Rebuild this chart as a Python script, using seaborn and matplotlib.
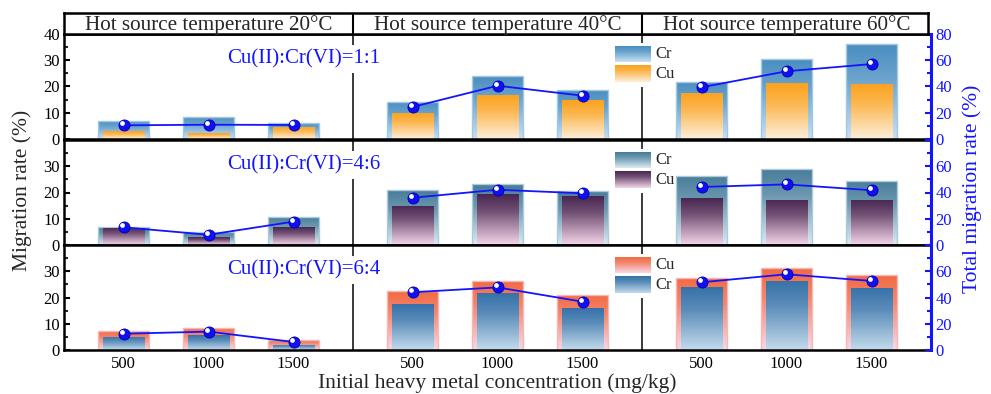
import numpy as np
import pandas as pd
import matplotlib
matplotlib.use("Agg")
import matplotlib.pyplot as plt
import seaborn as sns
from matplotlib.colors import LinearSegmentedColormap
from matplotlib.patches import Rectangle
from matplotlib.transforms import ScaledTranslation

sns.set_theme(style="ticks")
plt.rcParams["font.family"] = ["Liberation Serif", "DejaVu Serif"]

# ---- data -------------------------------------------------------------
temperatures = ["20°C", "40°C", "60°C"]
concentrations = [500, 1000, 1500]

# Cu(II):Cr(VI) = 1:1
cr_1_1 = [7.0, 8.5, 6.2, 14.2, 24.0, 18.5, 21.8, 30.4, 36.1]
cu_1_1 = [3.0, 2.2, 4.6, 10.0, 16.8, 14.7, 17.6, 21.3, 21.0]
total_1_1 = [10.4, 10.9, 10.7, 24.4, 40.6, 33.0, 39.4, 51.6, 57.1]

# Cu(II):Cr(VI) = 4:6
cr_4_6 = [6.7, 4.8, 10.8, 20.8, 23.1, 20.6, 26.3, 29.0, 24.4]
cu_4_6 = [6.5, 2.9, 6.7, 15.0, 19.3, 18.5, 17.8, 17.3, 17.3]
total_4_6 = [13.5, 7.8, 17.8, 36.0, 42.1, 39.4, 44.2, 46.2, 41.7]

# Cu(II):Cr(VI) = 6:4
cu_6_4 = [7.2, 8.4, 3.9, 22.3, 26.3, 21.1, 27.6, 31.1, 28.7]
cr_6_4 = [5.0, 5.6, 2.0, 17.4, 21.6, 16.0, 23.9, 26.4, 23.7]
total_6_4 = [12.4, 14.0, 6.1, 44.0, 47.7, 36.8, 51.6, 57.7, 52.6]

# ---- layout helpers ---------------------------------------------------
GROUP_STEP = 3.4
positions = [g * GROUP_STEP + i for g in range(3) for i in range(3)]
group_of = [t for t in temperatures for _ in concentrations]
x_min, x_max = -0.7, 3 * GROUP_STEP - 0.7
separators = [GROUP_STEP - 0.7, 2 * GROUP_STEP - 0.7]
group_centres = [g * GROUP_STEP + 1 for g in range(3)]

BLUE = "#1414ff"

# gradient palettes: (top colour, bottom colour)
CR_BLUE = ("#4a8ec0", "#c9e1f3")
CU_ORANGE = ("#fba21c", "#fdefdc")
CR_TEAL = ("#467c99", "#dcecf4")
CU_PURPLE = ("#482650", "#f5d6e9")
CU_RED = ("#f26a42", "#f7d8ea")
CR_STEEL = ("#3671a8", "#c4dbec")

rows = [
    dict(ratio="1:1", outer=("Cr", cr_1_1, CR_BLUE), inner=("Cu", cu_1_1, CU_ORANGE),
         total=total_1_1),
    dict(ratio="4:6", outer=("Cr", cr_4_6, CR_TEAL), inner=("Cu", cu_4_6, CU_PURPLE),
         total=total_4_6),
    dict(ratio="6:4", outer=("Cu", cu_6_4, CU_RED), inner=("Cr", cr_6_4, CR_STEEL),
         total=total_6_4),
]


def _mix(a, b, t):
    ca = np.array(matplotlib.colors.to_rgb(a))
    cb = np.array(matplotlib.colors.to_rgb(b))
    return tuple(ca * (1 - t) + cb * t)


def make_cmap(top, bottom):
    return LinearSegmentedColormap.from_list(
        "grad", [(0.0, bottom), (0.65, _mix(top, bottom, 0.25)), (1.0, top)]
    )


GRAD = np.linspace(0, 1, 256).reshape(-1, 1)


def gradient_bars(ax, patches, colours, z, edge=None):
    cmap = make_cmap(*colours)
    for p in patches:
        x0, y0 = p.get_x(), p.get_y()
        w, h = p.get_width(), p.get_height()
        im = ax.imshow(GRAD, cmap=cmap, extent=[x0, x0 + w, y0, y0 + h],
                       origin="lower", aspect="auto", interpolation="bilinear",
                       zorder=z)
        im.set_clip_path(p)
        p.set_facecolor("none")
        p.set_zorder(z + 0.05)
        if edge is not None:
            p.set_edgecolor(edge)
            p.set_linewidth(1.0)
        else:
            p.set_edgecolor("none")


# ---- figure -----------------------------------------------------------
fig = plt.figure(figsize=(9.91, 3.94), dpi=100)
left, width = 64 / 991, 867 / 991
row_h = 105 / 394
row_bottoms = [1 - 139 / 394, 1 - 245 / 394, 1 - 350 / 394]

SPINE_W = 1.8
TICK_FS = 12

for r, (spec, bottom) in enumerate(zip(rows, row_bottoms)):
    ax = fig.add_axes([left, bottom, width, row_h])
    tw = ax.twinx()

    # separators between temperature groups
    for s in separators:
        ax.axvline(s, color="#2a2a2a", lw=1.3, zorder=0.5)

    # outer (wider) and inner (narrower) bars
    o_name, o_vals, o_col = spec["outer"]
    i_name, i_vals, i_col = spec["inner"]
    n0 = len(ax.patches)
    sns.barplot(x=positions, y=o_vals, native_scale=True, width=0.59,
                color=o_col[0], errorbar=None, ax=ax)
    n1 = len(ax.patches)
    sns.barplot(x=positions, y=i_vals, native_scale=True, width=0.49,
                color=i_col[0], errorbar=None, ax=ax)
    n2 = len(ax.patches)
    gradient_bars(ax, ax.patches[n0:n1], o_col, 1.0, edge=_mix(o_col[1], o_col[0], 0.3))
    gradient_bars(ax, ax.patches[n1:n2], i_col, 1.2)

    # total migration line on the right-hand axis, one segment per temperature
    line_df = pd.DataFrame({"pos": positions, "total": spec["total"], "temp": group_of})
    sns.lineplot(data=line_df, x="pos", y="total", hue="temp",
                 palette=[BLUE] * 3, ax=tw, lw=1.3, marker="o", markersize=8,
                 markerfacecolor="#1010f0", markeredgecolor="#0000b0",
                 markeredgewidth=0.6, legend=False, zorder=5)
    shine = tw.transData + ScaledTranslation(-1.4 / 72, 1.4 / 72, fig.dpi_scale_trans)
    tw.plot(positions, spec["total"], ls="none", marker="o", markersize=2.4,
            color="white", transform=shine, zorder=6)

    # ratio annotation with a white backing that interrupts the separator
    tw.text(0.276, 0.76, f"Cu(II):Cr(VI)={spec['ratio']}", transform=tw.transAxes,
            color=BLUE, fontsize=15, ha="center", va="center", zorder=7,
            bbox=dict(facecolor="white", edgecolor="none", pad=3))

    # hand-built legend with gradient swatches
    tw.add_patch(Rectangle((0.630, 0.50), 0.065, 0.41, transform=tw.transAxes,
                           facecolor="white", edgecolor="none", zorder=7))
    legend_items = [(o_name, o_col), (i_name, i_col)]
    for k, (name, col) in enumerate(legend_items):
        y0, y1 = (0.735, 0.885) if k == 0 else (0.54, 0.695)
        tw.imshow(GRAD, cmap=make_cmap(*col), extent=[0.6355, 0.6759, y0, y1],
                  origin="lower", aspect="auto", transform=tw.transAxes,
                  interpolation="bilinear", zorder=8)
        tw.text(0.682, (y0 + y1) / 2, name, transform=tw.transAxes, fontsize=12,
                ha="left", va="center", zorder=8)

    # limits and ticks
    ax.set_xlim(x_min, x_max)
    ax.set_ylim(0, 40)
    tw.set_ylim(0, 80)
    ax.set_xlabel("")
    ax.set_ylabel("")
    tw.set_xlabel("")
    tw.set_ylabel("")

    ax.set_xticks(positions)
    if r == 2:
        ax.set_xticklabels([str(c) for c in concentrations] * 3, fontsize=TICK_FS)
    else:
        ax.set_xticklabels([])
    ax.set_yticks([0, 10, 20, 30, 40])
    ax.set_yticks([5, 15, 25, 35], minor=True)
    ax.set_yticklabels(["0", "10", "20", "30", "40" if r == 0 else ""], fontsize=TICK_FS)
    tw.set_yticks([0, 20, 40, 60, 80])
    tw.set_yticks([10, 30, 50, 70], minor=True)
    tw.set_yticklabels(["0", "20", "40", "60", "80" if r == 0 else ""],
                       fontsize=TICK_FS, color=BLUE)

    ax.tick_params(axis="x", which="both", direction="in", length=3, width=1.2,
                   top=False, bottom=True, pad=4, colors="black")
    ax.tick_params(axis="y", which="major", direction="in", length=4.5, width=1.5,
                   left=True, right=False, pad=3, colors="black")
    ax.tick_params(axis="y", which="minor", direction="in", length=3, width=1.5,
                   left=True, right=False)
    tw.tick_params(axis="y", which="major", direction="in", length=4.5, width=1.5,
                   right=True, pad=3, colors=BLUE)
    tw.tick_params(axis="y", which="minor", direction="in", length=3, width=1.5,
                   right=True, colors=BLUE)

    for side in ["left", "top", "bottom"]:
        ax.spines[side].set_linewidth(SPINE_W)
        ax.spines[side].set_color("black")
    ax.spines["right"].set_visible(False)
    for side in ["left", "top", "bottom"]:
        tw.spines[side].set_visible(False)
    tw.spines["right"].set_visible(True)
    tw.spines["right"].set_color(BLUE)
    tw.spines["right"].set_linewidth(2.2)

# ---- header strip with the hot source temperatures -------------------
hax = fig.add_axes([left, 1 - 34 / 394, 867 / 991 - 3 / 991, 21 / 394])
hax.set_xlim(x_min, x_max - 3 * (x_max - x_min) / 867)
hax.set_ylim(0, 1)
hax.set_xticks([])
hax.set_yticks([])
for side in hax.spines.values():
    side.set_linewidth(SPINE_W)
    side.set_color("black")
    side.set_visible(True)
for s in separators:
    hax.axvline(s, color="black", lw=1.5)
for c, t in zip(group_centres, temperatures):
    hax.text(c, 0.45, f"Hot source temperature {t}", ha="center", va="center",
             fontsize=15.2)

# ---- axis titles -----------------------------------------------------
fig.text(0.022, 0.518, "Migration rate (%)", rotation=90, ha="center", va="center",
         fontsize=15.5)
fig.text(0.981, 0.52, "Total migration rate (%)", rotation=90, ha="center",
         va="center", fontsize=15.5, color=BLUE)
fig.text(497 / 991, 0.028, "Initial heavy metal concentration (mg/kg)", ha="center",
         va="center", fontsize=15.5)

fig.savefig("out.png", dpi=100)
